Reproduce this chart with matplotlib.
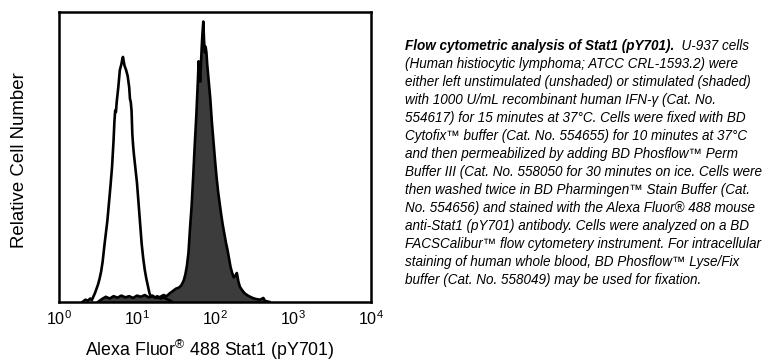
import numpy as np
import matplotlib
matplotlib.use('Agg')
from matplotlib import pyplot as plt

plt.rcParams['font.family'] = ['Liberation Sans', 'DejaVu Sans']
plt.rcParams['mathtext.fontset'] = 'custom'
plt.rcParams['mathtext.rm'] = 'Liberation Sans'
plt.rcParams['mathtext.it'] = 'Liberation Sans:italic'

# unstimulated (unshaded): log10 fluorescence, relative count
unstim_log = [0.30, 0.34, 0.37, 0.40, 0.42, 0.44, 0.46, 0.48, 0.50, 0.52,
              0.54, 0.56, 0.58, 0.60, 0.62, 0.64, 0.66, 0.68, 0.70, 0.71,
              0.72, 0.73, 0.74, 0.76, 0.78, 0.80, 0.81, 0.82, 0.83, 0.84,
              0.86, 0.88, 0.90, 0.91, 0.92, 0.93, 0.94, 0.95, 0.96, 0.98,
              1.00, 1.02, 1.04, 1.06, 1.08, 1.10, 1.12, 1.14, 1.16, 1.18,
              1.20, 1.23, 1.26, 1.30, 1.34, 1.38, 1.42, 1.45]
unstim_cnt = [0.0, 0.008, 0.004, 0.012, 0.006, 0.018, 0.030, 0.045, 0.060, 0.080,
              0.105, 0.140, 0.190, 0.235, 0.280, 0.340, 0.400, 0.465, 0.560, 0.620,
              0.660, 0.655, 0.690, 0.740, 0.800, 0.820, 0.835, 0.845, 0.830, 0.815,
              0.800, 0.780, 0.740, 0.700, 0.690, 0.660, 0.580, 0.540, 0.510, 0.460,
              0.410, 0.340, 0.270, 0.200, 0.150, 0.110, 0.080, 0.055, 0.030, 0.018,
              0.022, 0.015, 0.020, 0.012, 0.016, 0.010, 0.006, 0.0]

# IFN-gamma stimulated (shaded)
stim_log = [0.50, 0.55, 0.60, 0.65, 0.70, 0.75, 0.80, 0.85, 0.90, 0.95,
            1.00, 1.05, 1.10, 1.15, 1.20, 1.25, 1.30, 1.34, 1.38, 1.42,
            1.46, 1.50, 1.54, 1.57, 1.60, 1.62, 1.64, 1.66, 1.68, 1.70,
            1.72, 1.74, 1.76, 1.78, 1.79, 1.80, 1.81, 1.82, 1.83, 1.84,
            1.85, 1.86, 1.87, 1.88, 1.89, 1.90, 1.92, 1.94, 1.96, 1.98,
            2.00, 2.02, 2.04, 2.06, 2.08, 2.10, 2.12, 2.14, 2.16, 2.18,
            2.20, 2.22, 2.24, 2.26, 2.28, 2.30, 2.32, 2.35, 2.38, 2.41,
            2.45, 2.49, 2.53, 2.58, 2.62, 2.64, 2.70]
stim_cnt = [0.0, 0.010, 0.018, 0.012, 0.020, 0.015, 0.022, 0.016, 0.020, 0.014,
            0.022, 0.018, 0.024, 0.016, 0.020, 0.014, 0.018, 0.024, 0.020, 0.030,
            0.038, 0.046, 0.050, 0.058, 0.075, 0.095, 0.125, 0.170, 0.255, 0.330,
            0.430, 0.540, 0.640, 0.760, 0.830, 0.800, 0.760, 0.820, 0.880, 0.930,
            0.967, 0.900, 0.860, 0.880, 0.860, 0.820, 0.760, 0.700, 0.620, 0.555,
            0.490, 0.430, 0.380, 0.340, 0.300, 0.265, 0.235, 0.205, 0.180, 0.150,
            0.120, 0.100, 0.085, 0.090, 0.100, 0.070, 0.052, 0.040, 0.030, 0.024,
            0.018, 0.013, 0.010, 0.008, 0.014, 0.004, 0.0]

xticks = [1, 10, 100, 1000, 10000]
xtick_labels = [r'$10^{0}$', r'$10^{1}$', r'$10^{2}$', r'$10^{3}$', r'$10^{4}$']

caption_head = 'Flow cytometric analysis of Stat1 (pY701).'
caption_lines = [
    '  U-937 cells',
    '(Human histiocytic lymphoma; ATCC CRL-1593.2) were',
    'either left unstimulated (unshaded) or stimulated (shaded)',
    'with 1000 U/mL recombinant human IFN-\u03b3 (Cat. No.',
    '554617) for 15 minutes at 37\u00b0C. Cells were fixed with BD',
    'Cytofix\u2122 buffer (Cat. No. 554655) for 10 minutes at 37\u00b0C',
    'and then permeabilized by adding BD Phosflow\u2122 Perm',
    'Buffer III (Cat. No. 558050 for 30 minutes on ice. Cells were',
    'then washed twice in BD Pharmingen\u2122 Stain Buffer (Cat.',
    'No. 554656) and stained with the Alexa Fluor\u00ae 488 mouse',
    'anti-Stat1 (pY701) antibody. Cells were analyzed on a BD',
    'FACSCalibur\u2122 flow cytometery instrument. For intracellular',
    'staining of human whole blood, BD Phosflow\u2122 Lyse/Fix',
    'buffer (Cat. No. 558049) may be used for fixation.',
]

W, H = 783, 362
fig = plt.figure(figsize=(W / 100, H / 100), dpi=100)
ax = fig.add_axes([59 / W, 1 - 302 / H, 312 / W, 290 / H])

ux = 10 ** np.array(unstim_log)
sx = 10 ** np.array(stim_log)
ax.fill_between(sx, stim_cnt, 0, color='#3c3c3c', lw=0)
ax.plot(sx, stim_cnt, color='black', lw=1.9)
ax.plot(ux, unstim_cnt, color='black', lw=1.9)

ax.set_xscale('log')
ax.set_xlim(1, 10000)
ax.set_ylim(0, 1.0)
ax.set_yticks([])
ax.set_xticks(xticks)
ax.set_xticklabels(xtick_labels, fontsize=11.6)
ax.minorticks_off()
ax.tick_params(axis='x', length=0, pad=5)
for s in ax.spines.values():
    s.set_linewidth(1.8)

ax.set_xlabel('Alexa Fluor$^{\u00ae}$ 488 Stat1 (pY701)', fontsize=12.8)
ax.xaxis.set_label_coords(0.5 - 5 / 312, -(350 - 302) / 290)
ax.xaxis.label.set_va('center')
ax.set_ylabel('Relative Cell Number', fontsize=13.4)
ax.yaxis.set_label_coords((20 - 59) / 312, 0.5 + (302 - 160 - 145) / 290)
ax.yaxis.label.set_va('center')

# caption, line by line
x0 = 405 / W
fs = 9.75
head = fig.text(x0, 1 - 46 / H, caption_head, fontsize=fs, style='italic',
                weight='bold', va='center')
fig.canvas.draw()
bb = head.get_window_extent()
fig.text(bb.x1 / W, 1 - 46 / H, caption_lines[0], fontsize=fs, style='italic',
         va='center')
for i, line in enumerate(caption_lines[1:], start=1):
    fig.text(x0, 1 - (46 + 18 * i) / H, line, fontsize=fs, style='italic',
             va='center')

fig.savefig('out.png', dpi=100)
